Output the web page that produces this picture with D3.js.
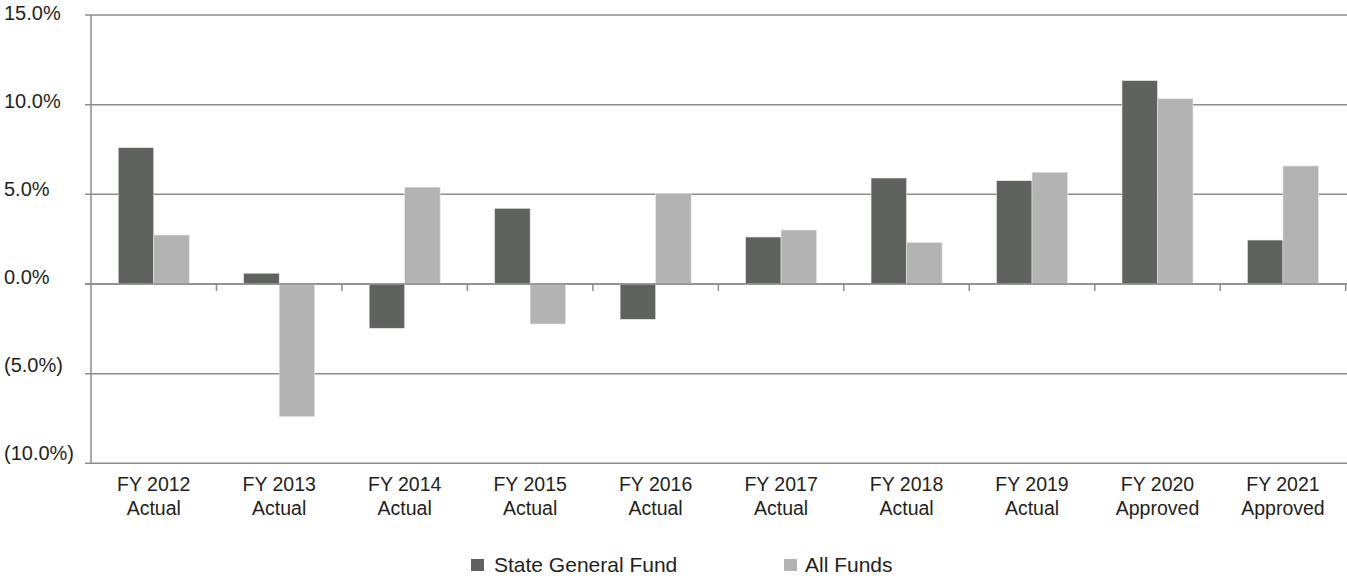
<!DOCTYPE html>
<html>
<head>
<meta charset="utf-8">
<script src="https://cdn.jsdelivr.net/npm/d3@7"></script>
<style>
  body { margin: 0; background: #fff; }
  text { font-family: "Liberation Sans", Arial, sans-serif; fill: #231f20; }
</style>
</head>
<body>
<svg id="chart"></svg>
<script>
// data
var years = ["FY 2012", "FY 2013", "FY 2014", "FY 2015", "FY 2016", "FY 2017", "FY 2018", "FY 2019", "FY 2020", "FY 2021"];
var kinds = ["Actual", "Actual", "Actual", "Actual", "Actual", "Actual", "Actual", "Actual", "Approved", "Approved"];
var stateGeneralFund = [7.6, 0.6, -2.47, 4.22, -1.97, 2.62, 5.91, 5.76, 11.34, 2.45];
var allFunds = [2.73, -7.4, 5.4, -2.23, 5.06, 3.01, 2.32, 6.23, 10.33, 6.58];
var seriesNames = ["State General Fund", "All Funds"];
var seriesColors = ["#606260", "#b3b3b3"];
var yTicks = [15, 10, 5, 0, -5, -10];

var W = 1347, H = 578;
var svg = d3.select("#chart").attr("width", W).attr("height", H);

var x = d3.scaleBand().domain(years).range([91, 1345.7]).padding(0);
var x1 = d3.scaleBand().domain(seriesNames).range([0, x.bandwidth()]).paddingInner(0).paddingOuter(0.767);
var y = d3.scaleLinear().domain([-10, 15]).range([463.3, 15]);
// labels sit a little off the gridlines in the original
var yLab = d3.scaleLinear().domain([-10, 15]).range([460, 19.5]);

function fmt(v){
    var s = Math.abs(v).toFixed(1) + "%";
    return v < 0 ? "(" + s + ")" : s;
}

// gridlines
svg.append("g").selectAll("line")
    .data(yTicks)
    .enter().append("line")
    .attr("x1", 85).attr("x2", W)
    .attr("y1", function(d){ return y(d); })
    .attr("y2", function(d){ return y(d); })
    .attr("stroke", "#8c8c8c")
    .attr("stroke-width", 1.5);

svg.append("g").selectAll("text")
    .data(yTicks)
    .enter().append("text")
    .attr("x", 4)
    .attr("y", function(d){ return yLab(d); })
    .style("font-size", "20px")
    .text(function(d){ return fmt(d); });

// bars
var rows = years.map(function(c, i){ return {cat: c, vals: [stateGeneralFund[i], allFunds[i]]}; });
var groups = svg.append("g").selectAll("g")
    .data(rows)
    .enter().append("g")
    .attr("transform", function(d){ return "translate(" + x(d.cat) + ",0)"; });

groups.selectAll("rect")
    .data(function(d){ return d.vals.map(function(v, j){ return {name: seriesNames[j], v: v, j: j}; }); })
    .enter().append("rect")
    .attr("x", function(d){ return x1(d.name); })
    .attr("width", x1.bandwidth())
    .attr("y", function(d){ return y(Math.max(0, d.v)); })
    .attr("height", function(d){ return Math.abs(y(d.v) - y(0)); })
    .attr("fill", function(d){ return seriesColors[d.j]; })
    .attr("stroke", "#e6e6e6")
    .attr("stroke-width", 0.6);

// zero line on top of the bars
svg.append("line")
    .attr("x1", 85).attr("x2", W)
    .attr("y1", y(0)).attr("y2", y(0))
    .attr("stroke", "#8c8c8c").attr("stroke-width", 1.5);

// category boundary ticks on the zero line
var bounds = years.map(function(c){ return x(c) + x.step(); });
svg.append("g").selectAll("line")
    .data(bounds)
    .enter().append("line")
    .attr("x1", function(d){ return d; }).attr("x2", function(d){ return d; })
    .attr("y1", y(0)).attr("y2", y(0) + 7)
    .attr("stroke", "#8c8c8c").attr("stroke-width", 1.5);

// vertical axis
svg.append("line")
    .attr("x1", 91).attr("x2", 91)
    .attr("y1", y(15)).attr("y2", y(-10))
    .attr("stroke", "#8c8c8c").attr("stroke-width", 1.5);

// category labels
var cl = svg.append("g").selectAll("text")
    .data(years)
    .enter().append("text")
    .attr("text-anchor", "middle")
    .style("font-size", "19.5px")
    .attr("x", function(d){ return x(d) + x.bandwidth() / 2; })
    .attr("y", 491);
cl.append("tspan").text(function(d){ return d; });
cl.append("tspan")
    .attr("x", function(d){ return x(d) + x.bandwidth() / 2; })
    .attr("dy", 24)
    .text(function(d, i){ return kinds[i]; });

// legend
var legX = [471, 784];
var leg = svg.append("g").selectAll("g")
    .data(seriesNames)
    .enter().append("g")
    .attr("transform", function(d, i){ return "translate(" + legX[i] + ",559)"; });
leg.append("rect")
    .attr("width", 13).attr("height", 12)
    .attr("fill", function(d, i){ return seriesColors[i]; });
leg.append("text")
    .attr("x", function(d, i){ return i == 0 ? 23 : 21; })
    .attr("y", 13)
    .style("font-size", "21px")
    .text(function(d){ return d; });
</script>
</body>
</html>
